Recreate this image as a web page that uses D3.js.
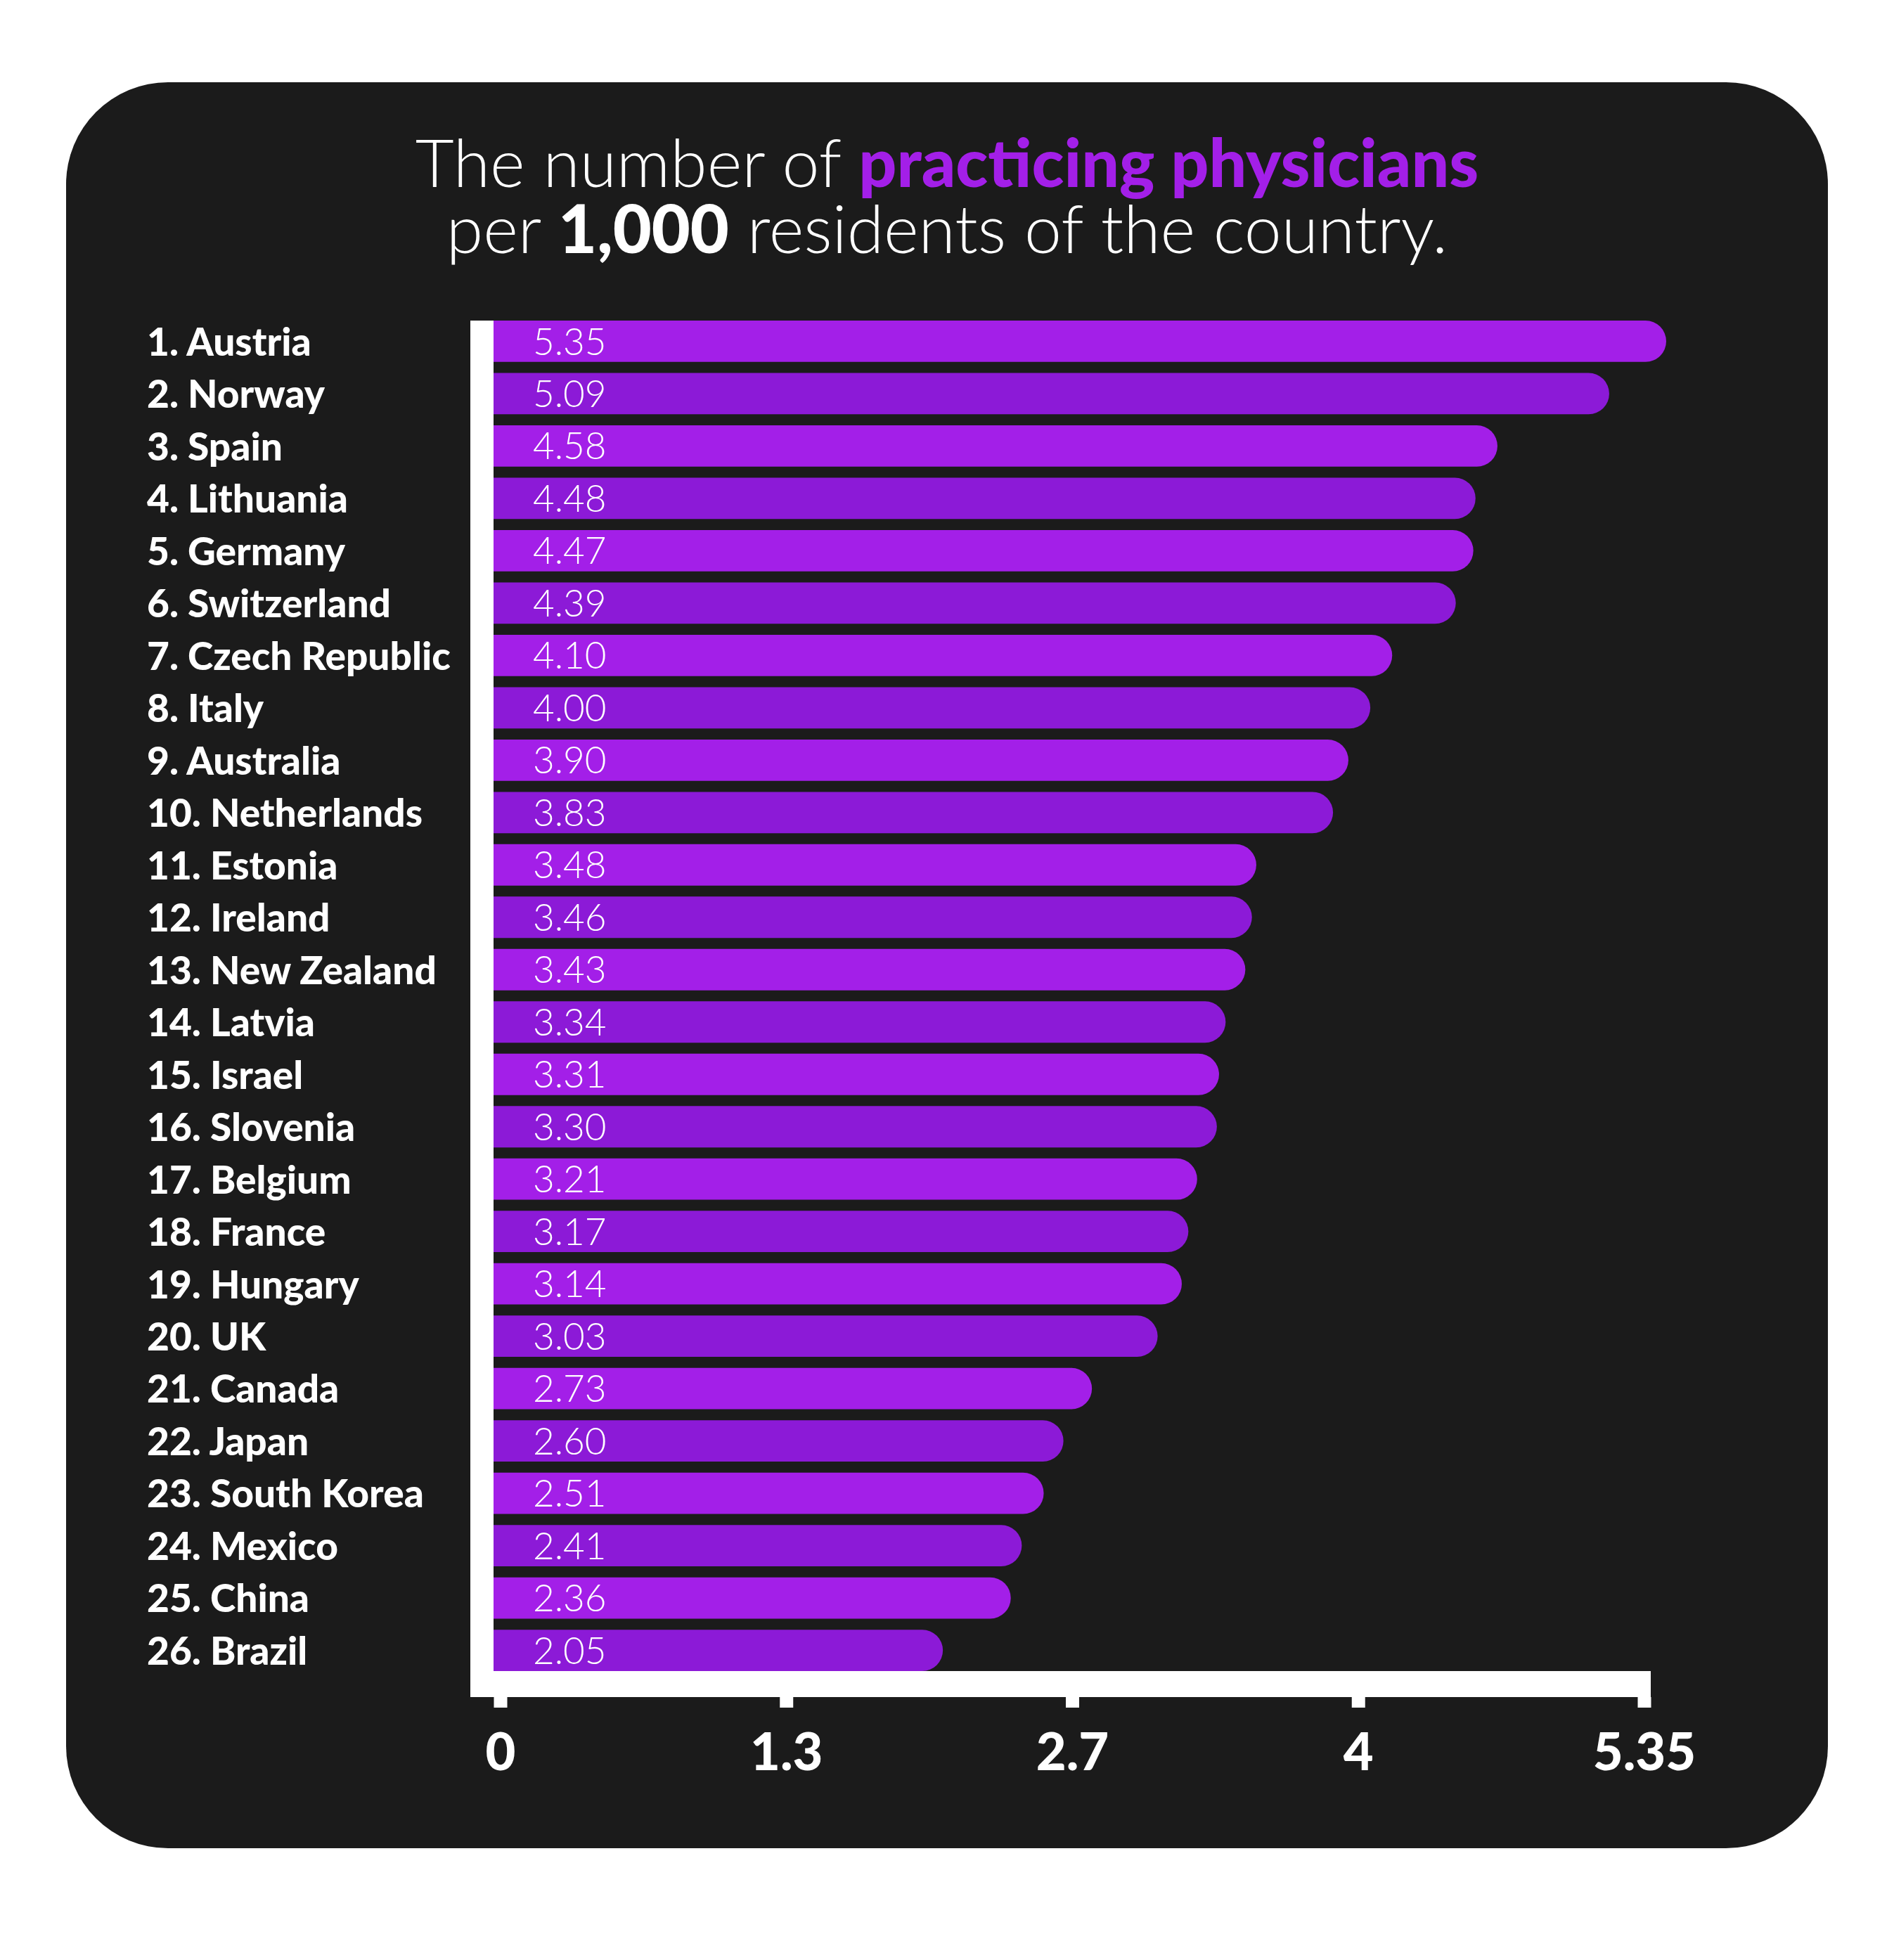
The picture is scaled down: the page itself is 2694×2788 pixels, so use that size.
<!DOCTYPE html>
<html>
<head>
<meta charset="utf-8">
<script src="https://cdn.jsdelivr.net/npm/d3@7"></script>
<style>
  html, body { margin: 0; padding: 0; background: #ffffff; }
  svg { display: block; }
</style>
</head>
<body>
<svg width="2694" height="2788"></svg>
<script>
// данные диаграммы
const countries = ["Austria", "Norway", "Spain", "Lithuania", "Germany", "Switzerland",
    "Czech Republic", "Italy", "Australia", "Netherlands", "Estonia", "Ireland",
    "New Zealand", "Latvia", "Israel", "Slovenia", "Belgium", "France", "Hungary",
    "UK", "Canada", "Japan", "South Korea", "Mexico", "China", "Brazil"];
const values = [5.35, 5.09, 4.58, 4.48, 4.47, 4.39, 4.10, 4.00, 3.90, 3.83, 3.48, 3.46,
    3.43, 3.34, 3.31, 3.30, 3.21, 3.17, 3.14, 3.03, 2.73, 2.60, 2.51, 2.41, 2.36, 2.05];
const tickLabels = ["0", "1.3", "2.7", "4", "5.35"];

const svg = d3.select("svg");
const width = +svg.attr("width");

const colorA = "#a31fe8";
const colorB = "#8c1ad7";
const panelColor = "#1b1b1b";
const fontFamily = "Lato, 'Open Sans', sans-serif";

// тёмная подложка со скруглёнными углами
svg.append("rect")
    .attr("x", 94).attr("y", 117)
    .attr("width", 2506).attr("height", 2512)
    .attr("rx", 145).attr("ry", 145)
    .attr("fill", panelColor);

// заголовок: каждая строка из отдельных кусков, выровненных по центру
const titleLines = [
    {y: 266, parts: [
        {text: "The number of\u00a0", weight: 300, color: "#ffffff"},
        {text: "practicing physicians", weight: 900, color: colorA}]},
    {y: 360, parts: [
        {text: "per\u00a0", weight: 300, color: "#ffffff"},
        {text: "1,000", weight: 900, color: "#ffffff"},
        {text: "\u00a0residents of the country.", weight: 300, color: "#ffffff"}]}
];

titleLines.forEach(line => {
    const g = svg.append("g");
    const pieces = g.selectAll("text")
        .data(line.parts)
        .join("text")
        .attr("y", line.y)
        .attr("font-family", fontFamily)
        .attr("font-size", 95)
        .attr("font-weight", d => d.weight)
        .attr("fill", d => d.color)
        .text(d => d.text);
    const widths = pieces.nodes().map(n => n.getComputedTextLength());
    let pos = width / 2 - d3.sum(widths) / 2;
    pieces.attr("x", (d, i) => {
        const cur = pos;
        pos += widths[i];
        return cur;
    });
});

// шкалы
const x0 = 702;
const x = d3.scaleLinear()
    .domain([0, d3.max(values)])
    .range([x0, 2370]);

const y = d3.scaleBand()
    .domain(countries)
    .range([456, 2377])
    .paddingInner(0.21)
    .paddingOuter(0);

// шкала для подписей оси (в оригинале деления расставлены примерно равномерно)
const xAxisScale = d3.scalePoint()
    .domain(tickLabels)
    .range([711.5, 2338.5]);

// путь столбца со скруглённым правым концом
function barPath(v, c) {
    const top = y(c);
    const h = y.bandwidth();
    const r = h / 2;
    const end = x(v);
    return `M${x0},${top} H${end - r} A${r},${r} 0 0 1 ${end - r},${top + h} H${x0} Z`;
}

svg.append("g")
    .selectAll("path")
    .data(countries)
    .join("path")
    .attr("d", (c, i) => barPath(values[i], c))
    .attr("fill", (c, i) => i % 2 === 0 ? colorA : colorB);

// значения внутри столбцов
svg.append("g")
    .selectAll("text")
    .data(countries)
    .join("text")
    .attr("x", x0 + 56)
    .attr("y", c => y(c) + y.bandwidth() / 2)
    .attr("dy", "0.36em")
    .attr("font-family", fontFamily)
    .attr("font-weight", 300)
    .attr("font-size", 53)
    .attr("fill", "#ffffff")
    .text((c, i) => d3.format(".2f")(values[i]));

// названия стран
svg.append("g")
    .selectAll("text")
    .data(countries)
    .join("text")
    .attr("x", 209)
    .attr("y", c => y(c) + y.bandwidth() / 2)
    .attr("dy", "0.37em")
    .attr("font-family", fontFamily)
    .attr("font-weight", 900)
    .attr("font-size", 55)
    .attr("fill", "#ffffff")
    .text((c, i) => `${i + 1}. ${c}`);

// оси: вертикальная и горизонтальная белые полосы
const axisTop = y.range()[1];
svg.append("rect")
    .attr("x", 669).attr("y", 456)
    .attr("width", x0 - 669).attr("height", axisTop + 37 - 456)
    .attr("fill", "#ffffff");
svg.append("rect")
    .attr("x", 669).attr("y", axisTop)
    .attr("width", 2348 - 669).attr("height", 37)
    .attr("fill", "#ffffff");

const xAxis = d3.axisBottom(xAxisScale)
    .tickSize(15)
    .tickPadding(36);

const gx = svg.append("g")
    .attr("transform", `translate(0,${axisTop + 37})`)
    .call(xAxis);
gx.select(".domain").remove();
gx.selectAll(".tick line")
    .attr("stroke", "#ffffff")
    .attr("stroke-width", 19);
gx.selectAll(".tick text")
    .attr("fill", "#ffffff")
    .attr("font-family", fontFamily)
    .attr("font-weight", 900)
    .attr("font-size", 74);
</script>
</body>
</html>
